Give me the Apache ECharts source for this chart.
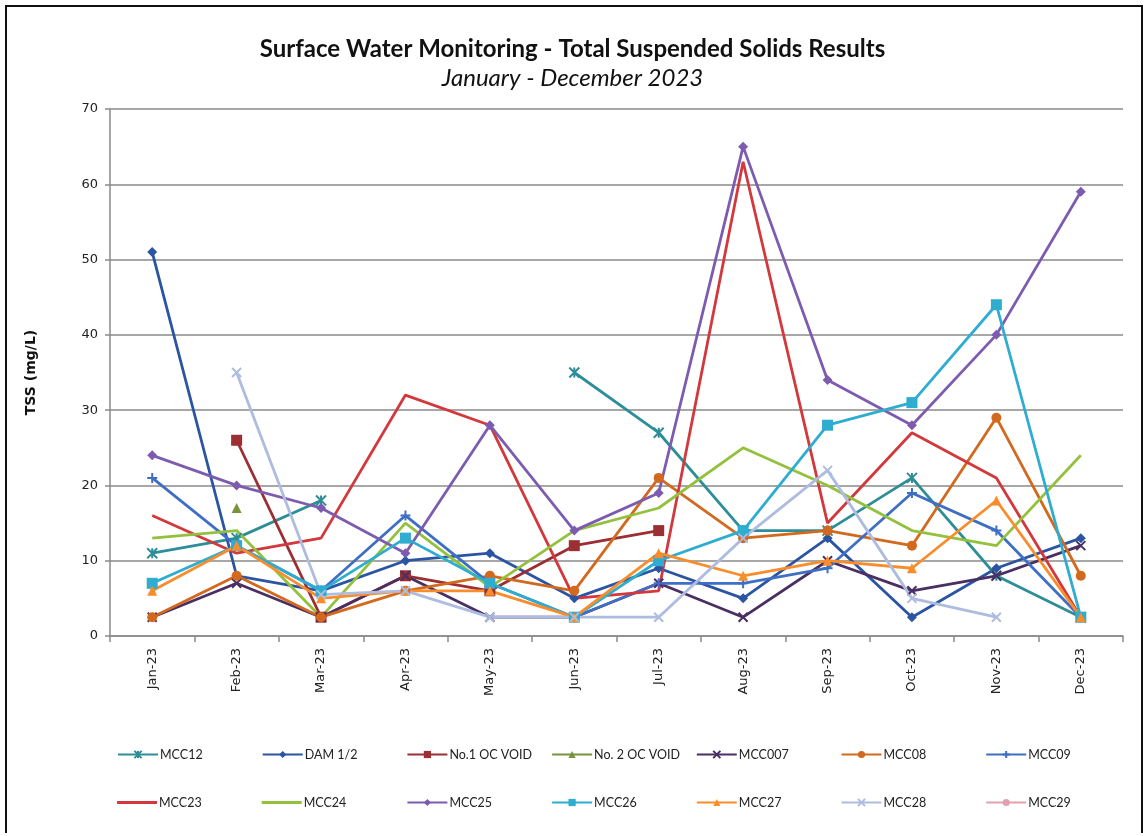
<!DOCTYPE html>
<html>
<head>
<meta charset="utf-8">
<script src="https://cdn.jsdelivr.net/npm/echarts@6/dist/echarts.min.js"></script>
<style>
  html, body { margin: 0; padding: 0; background: #fff; }
  #frame { position: absolute; left: 5px; top: 5px; width: 1134px; height: 826px; border: 2px solid #111; border-bottom: none; }
  #main { position: absolute; left: 0; top: 0; width: 1145px; height: 836px; }
</style>
</head>
<body>
<div id="frame"></div>
<div id="main"></div>
<script>
var months = ['Jan-23', 'Feb-23', 'Mar-23', 'Apr-23', 'May-23', 'Jun-23', 'Jul-23', 'Aug-23', 'Sep-23', 'Oct-23', 'Nov-23', 'Dec-23'];
var yTicks = [0, 10, 20, 30, 40, 50, 60, 70];

// TSS values, mg/L (null = no sample)
var mcc12  = [11, 13, 18, null, null, 35, 27, 14, 14, 21, 8, 2.5];
var dam12  = [51, 8, 6, 10, 11, 5, 9, 5, 13, 2.5, 9, 13];
var no1Void = [null, 26, 2.5, 8, 6, 12, 14, null, null, null, null, null];
var no2Void = [null, 17, null, null, null, null, null, null, null, null, null, null];
var mcc007 = [2.5, 7, 2.5, 8, 2.5, 2.5, 7, 2.5, 10, 6, 8, 12];
var mcc08  = [2.5, 8, 2.5, 6, 8, 6, 21, 13, 14, 12, 29, 8];
var mcc09  = [21, 12, 6, 16, 7, 2.5, 7, 7, 9, 19, 14, 2.5];
var mcc23  = [16, 11, 13, 32, 28, 5, 6, 63, 15, 27, 21, 2.5];
var mcc24  = [13, 14, 2.5, 15, 6.5, 14, 17, 25, 20, 14, 12, 24];
var mcc25  = [24, 20, 17, 11, 28, 14, 19, 65, 34, 28, 40, 59];
var mcc26  = [7, 12, 6, 13, 7, 2.5, 10, 14, 28, 31, 44, 2.5];
var mcc27  = [6, 12, 5, 6, 6, 2.5, 11, 8, 10, 9, 18, 2.5];
var mcc28  = [null, 35, 5.5, 6, 2.5, 2.5, 2.5, 13, 22, 5, 2.5, null];
var mcc29  = [null, null, null, null, null, null, null, null, null, null, null, null];

var X_MARK = 'path://M0,0L10,10M10,0L0,10';
var PLUS_MARK = 'path://M5,0L5,10M0,5L10,5';
var STAR_MARK = 'path://M0,0L10,10M10,0L0,10M5,0L5,10';

var seriesDefs = [
    {name: 'MCC12', data: mcc12, color: '#2E8E98', symbol: STAR_MARK, size: 10, stroke: true},
    {name: 'DAM 1/2', data: dam12, color: '#2B55A2', symbol: 'diamond', size: 10},
    {name: 'No.1 OC VOID', data: no1Void, color: '#9B2F33', symbol: 'rect', size: 11},
    {name: 'No. 2 OC VOID', data: no2Void, color: '#77933C', symbol: 'triangle', size: 10},
    {name: 'MCC007', data: mcc007, color: '#4A2F63', symbol: X_MARK, size: 9, stroke: true},
    {name: 'MCC08', data: mcc08, color: '#D2691E', symbol: 'circle', size: 10},
    {name: 'MCC09', data: mcc09, color: '#3F6FC4', symbol: PLUS_MARK, size: 10, stroke: true},
    {name: 'MCC23', data: mcc23, color: '#D2383C', symbol: 'none', size: 0},
    {name: 'MCC24', data: mcc24, color: '#93C13D', symbol: 'none', size: 0},
    {name: 'MCC25', data: mcc25, color: '#7D5CB0', symbol: 'diamond', size: 10},
    {name: 'MCC26', data: mcc26, color: '#2EADD0', symbol: 'rect', size: 11},
    {name: 'MCC27', data: mcc27, color: '#F98D2B', symbol: 'triangle', size: 10},
    {name: 'MCC28', data: mcc28, color: '#AEBCE0', symbol: X_MARK, size: 9, stroke: true},
    {name: 'MCC29', data: mcc29, color: '#E3A0B0', symbol: 'circle', size: 9}
];

var series = seriesDefs.map(function (d) {
    return {
        name: d.name,
        type: 'line',
        data: d.data,
        connectNulls: false,
        showAllSymbol: true,
        symbol: d.symbol,
        symbolSize: d.size,
        color: d.color,
        lineStyle: {width: 2.8, color: d.color},
        itemStyle: {color: d.color, borderColor: d.color, borderWidth: d.stroke ? 2 : 0},
        emphasis: {disabled: true},
        animation: false
    };
});

// one legend per entry so the columns line up like the original
var legends = seriesDefs.map(function (d, i) {
    var plain = d.symbol === 'none';
    return {
        data: plain ? [{name: d.name, icon: 'rect'}] : [d.name],
        left: 112 + (i % 7) * 144.7,
        top: i < 7 ? 743 : 791,
        itemWidth: 40,
        itemHeight: plain ? 3 : 9,
        itemGap: 0,
        textStyle: {fontFamily: 'Lato', fontSize: 12.5, color: '#222', padding: [0, 0, 0, -3]}
    };
});

var myChart = echarts.init(document.getElementById('main'));
var option = {
    backgroundColor: 'transparent',
    title: {
        text: 'Surface Water Monitoring - Total Suspended Solids Results',
        subtext: 'January - December 2023',
        left: 'center',
        top: 32,
        itemGap: 5,
        textStyle: {fontFamily: 'Lato', fontWeight: 'bold', fontSize: 24, color: '#111'},
        subtextStyle: {fontFamily: 'Lato', fontStyle: 'italic', fontSize: 24, color: '#111'}
    },
    legend: legends,
    grid: {left: 110, right: 22, top: 109, bottom: 200},
    xAxis: {
        type: 'category',
        data: months,
        boundaryGap: true,
        axisLine: {lineStyle: {color: '#8a8a8a', width: 1.5}},
        axisTick: {show: true, length: 6, lineStyle: {color: '#8a8a8a', width: 1.5}},
        axisLabel: {rotate: 90, margin: 12, fontFamily: 'DejaVu Sans', fontSize: 13, color: '#222'}
    },
    yAxis: {
        type: 'value',
        min: yTicks[0],
        max: yTicks[yTicks.length - 1],
        interval: 10,
        name: 'TSS (mg/L)',
        nameLocation: 'middle',
        nameGap: 72,
        nameTextStyle: {fontFamily: 'DejaVu Sans', fontWeight: 'bold', fontSize: 14, color: '#111'},
        axisLine: {show: true, lineStyle: {color: '#8a8a8a', width: 1.5}},
        axisTick: {show: true, length: 5, lineStyle: {color: '#8a8a8a', width: 1.5}},
        axisLabel: {margin: 12, fontFamily: 'DejaVu Sans', fontSize: 13, color: '#222'},
        splitLine: {lineStyle: {color: '#8a8a8a', width: 1.5}}
    },
    series: series
};
myChart.setOption(option);
</script>
</body>
</html>
